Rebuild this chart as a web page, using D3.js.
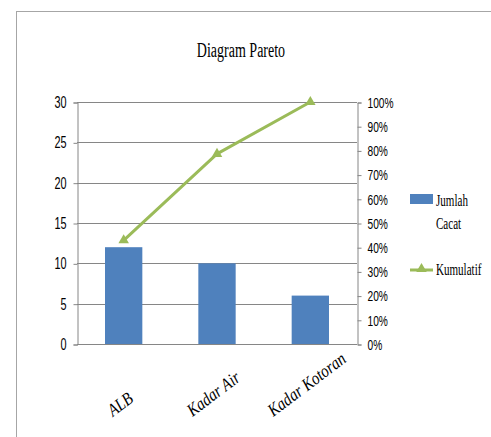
<!DOCTYPE html>
<html>
<head>
<meta charset="utf-8">
<script src="https://cdn.jsdelivr.net/npm/d3@7"></script>
<style>
  html, body { margin: 0; padding: 0; background: #fff; }
  svg { display: block; }
</style>
</head>
<body>
<svg id="chart" width="491" height="437"></svg>
<script>
// Defect categories and their counts
const categories = ["ALB", "Kadar Air", "Kadar Kotoran"];
const jumlahCacat = [12, 10, 6];
// Axis ticks
const countTicks = [0, 5, 10, 15, 20, 25, 30];
const pctTicks = [0, 0.1, 0.2, 0.3, 0.4, 0.5, 0.6, 0.7, 0.8, 0.9, 1];

// Cumulative share of the total
const total = d3.sum(jumlahCacat);
let running = 0;
const kumulatif = jumlahCacat.map(v => (running += v) / total);

const svg = d3.select("#chart");
const BLUE = "#4f81bd", GREEN = "#9bbb59", GRID = "#868686";
const SERIF = "'Liberation Serif', 'Times New Roman', Times, serif";
const SANS = "'Liberation Sans', Arial, sans-serif";

// narrow the rendered glyphs, as in the condensed chart fonts
function squeeze(sel, k) {
  sel.each(function () {
    const w = this.getComputedTextLength();
    d3.select(this).attr("textLength", w * k).attr("lengthAdjust", "spacingAndGlyphs");
  });
}

// outer frame
svg.append("rect")
  .attr("x", 16.5).attr("y", 11.5).attr("width", 500).attr("height", 500)
  .attr("fill", "none").attr("stroke", "#a6a6a6");

const plotLeft = 77, plotRight = 357, plotTop = 102, plotBottom = 344;

const x = d3.scaleBand().domain(categories).range([plotLeft, plotRight])
  .paddingInner(0.6).paddingOuter(0.3);
const y = d3.scaleLinear().domain([0, 30]).range([plotBottom, plotTop]);
const yPct = d3.scaleLinear().domain([0, 1]).range([plotBottom, plotTop]);

// title
svg.append("text")
  .style("font-family", SERIF)
  .style("font-size", "20px")
  .attr("x", 241).attr("y", 57)
  .attr("text-anchor", "middle")
  .attr("fill", "#000")
  .text("Diagram Pareto")
  .call(squeeze, 0.7);

// horizontal gridlines
svg.append("g").selectAll("line").data(countTicks).join("line")
  .attr("x1", plotLeft).attr("x2", plotRight)
  .attr("y1", d => Math.round(y(d)) + 0.5).attr("y2", d => Math.round(y(d)) + 0.5)
  .attr("stroke", GRID).attr("stroke-width", 1);

// left axis
const gLeft = svg.append("g").attr("transform", `translate(${plotLeft + 0.5},0.5)`)
  .call(d3.axisLeft(y).tickValues(countTicks).tickSize(4).tickPadding(7));
gLeft.select(".domain").attr("stroke", GRID);
gLeft.selectAll(".tick line").attr("stroke", GRID);
gLeft.selectAll("text")
  .style("font-family", SANS).style("font-size", "16px").attr("fill", "#000")
  .call(squeeze, 0.68);

// right axis
const gRight = svg.append("g").attr("transform", `translate(${plotRight + 0.5},0.5)`)
  .call(d3.axisRight(yPct).tickValues(pctTicks).tickFormat(d3.format(".0%")).tickSize(4).tickPadding(6));
gRight.select(".domain").attr("stroke", GRID);
gRight.selectAll(".tick line").attr("stroke", GRID);
gRight.selectAll("text")
  .style("font-family", SANS).style("font-size", "15px").attr("fill", "#000")
  .call(squeeze, 0.68);

// bars
svg.append("g").selectAll("rect").data(categories).join("rect")
  .attr("x", d => x(d))
  .attr("y", (d, i) => y(jumlahCacat[i]))
  .attr("width", x.bandwidth())
  .attr("height", (d, i) => y(0) - y(jumlahCacat[i]))
  .attr("fill", BLUE);

// cumulative line
const cx = d => x(d) + x.bandwidth() / 2;
svg.append("path")
  .datum(categories)
  .attr("fill", "none").attr("stroke", GREEN).attr("stroke-width", 3)
  .attr("stroke-linejoin", "round")
  .attr("d", d3.line().x(d => cx(d)).y((d, i) => yPct(kumulatif[i])));

const tri = d3.symbol(d3.symbolTriangle).size(48);
svg.append("g").selectAll("path").data(categories).join("path")
  .attr("d", tri)
  .attr("transform", (d, i) => `translate(${cx(d)},${yPct(kumulatif[i])})`)
  .attr("fill", GREEN);

// rotated category labels, centred under each bar
const angle = 37, rad = angle * Math.PI / 180;
svg.append("g").selectAll("text").data(categories).join("text")
  .style("font-family", SERIF)
  .style("font-style", "italic")
  .style("font-size", "18px")
  .attr("fill", "#000")
  .text(d => d)
  .call(squeeze, 0.84)
  .each(function (d) {
    const L = +d3.select(this).attr("textLength");
    const sx = cx(d) - L * Math.cos(rad) / 2;
    const sy = 417;
    d3.select(this).attr("transform", `translate(${sx},${sy}) rotate(${-angle})`);
  });

// legend
const lg = svg.append("g");
lg.append("rect").attr("x", 410).attr("y", 194).attr("width", 23).attr("height", 10).attr("fill", BLUE);
lg.append("line").attr("x1", 410).attr("x2", 433).attr("y1", 270).attr("y2", 270)
  .attr("stroke", GREEN).attr("stroke-width", 3);
lg.append("path").attr("d", tri).attr("transform", "translate(421.5,269)").attr("fill", GREEN);
const legendTexts = [["Jumlah", 206], ["Cacat", 229], ["Kumulatif", 275]];
lg.selectAll("text").data(legendTexts).join("text")
  .style("font-family", SERIF)
  .style("font-size", "17px")
  .attr("x", 0).attr("y", 0)
  .attr("transform", d => `translate(436,${d[1]}) scale(0.65,1)`)
  .attr("fill", "#000")
  .text(d => d[0]);
</script>
</body>
</html>
